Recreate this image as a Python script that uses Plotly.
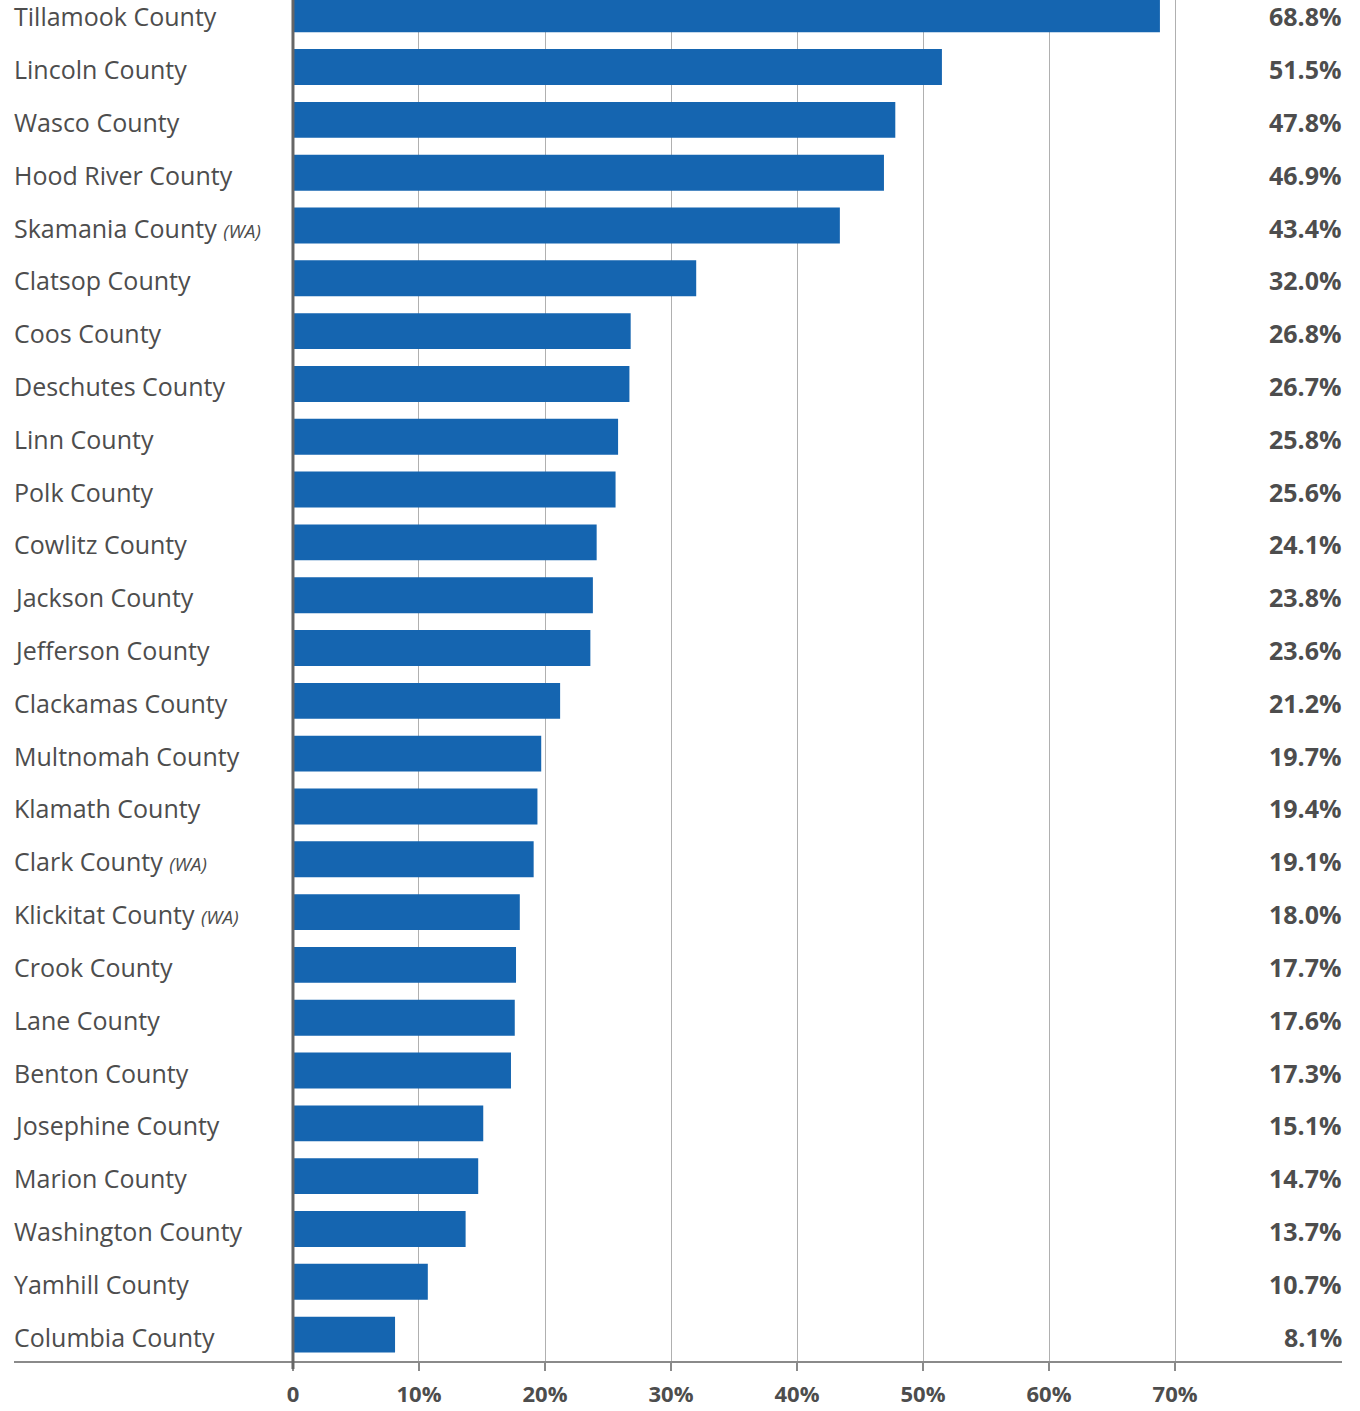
import plotly.graph_objects as go

counties = ["Tillamook County", "Lincoln County", "Wasco County", "Hood River County",
            "Skamania County (WA)", "Clatsop County", "Coos County", "Deschutes County",
            "Linn County", "Polk County", "Cowlitz County", "Jackson County",
            "Jefferson County", "Clackamas County", "Multnomah County", "Klamath County",
            "Clark County (WA)", "Klickitat County (WA)", "Crook County", "Lane County",
            "Benton County", "Josephine County", "Marion County", "Washington County",
            "Yamhill County", "Columbia County"]
values = [68.8, 51.5, 47.8, 46.9, 43.4, 32.0, 26.8, 26.7, 25.8, 25.6, 24.1, 23.8,
          23.6, 21.2, 19.7, 19.4, 19.1, 18.0, 17.7, 17.6, 17.3, 15.1, 14.7, 13.7,
          10.7, 8.1]
tick_vals = [0, 10, 20, 30, 40, 50, 60, 70]
tick_text = ["0", "10%", "20%", "30%", "40%", "50%", "60%", "70%"]

FONT = "Open Sans"
TXT = "#4d4d4d"
XMIN, XMAX = -22.14, 83.25

def label_html(name):
    if name.endswith(" (WA)"):
        base = name[:-5]
        return base + " <span style='font-size:19px'><i>(WA)</i></span>"
    return name

fig = go.Figure()
fig.add_trace(go.Bar(
    x=values, y=counties, orientation="h",
    marker=dict(color="#1565b0", line=dict(width=0)),
    width=0.68, hoverinfo="skip",
))

annotations = []
for c, v in zip(counties, values):
    annotations.append(dict(x=XMIN, y=c, xref="x", yref="y", text=label_html(c),
                            showarrow=False, xanchor="left", yanchor="middle",
                            xshift=-2, yshift=-2,
                            font=dict(family=FONT, size=25, color=TXT)))
    annotations.append(dict(x=XMAX, y=c, xref="x", yref="y", text="<b>%.1f%%</b>" % v,
                            showarrow=False, xanchor="right", yanchor="middle",
                            xshift=2, yshift=-2,
                            font=dict(family=FONT, size=25, color=TXT)))

fig.update_layout(
    width=1360, height=1411,
    margin=dict(l=14, r=18, t=0, b=50, autoexpand=False),
    paper_bgcolor="white", plot_bgcolor="white",
    showlegend=False,
    annotations=annotations,
    shapes=[dict(type="line", xref="x", yref="paper", x0=0, x1=0, y0=-8/1361, y1=1,
                 line=dict(color="#666666", width=3), layer="above")],
    xaxis=dict(range=[XMIN, XMAX], tickvals=tick_vals,
               ticktext=["<b>%s</b>" % t for t in tick_text],
               showgrid=True, gridcolor="#b0b0b0", gridwidth=1, zeroline=False,
               showline=True, linecolor="#8a8a8a", linewidth=2,
               ticks="outside", ticklen=8, tickcolor="#8a8a8a", tickwidth=2,
               ticklabelstandoff=5, automargin=False,
               tickfont=dict(family=FONT, size=22, color=TXT), fixedrange=True),
    yaxis=dict(categoryorder="array", categoryarray=counties,
               range=[25.5, -0.27], showticklabels=False, showgrid=False,
               zeroline=False, showline=False, fixedrange=True, automargin=False),
)

fig.write_html("out.html")
